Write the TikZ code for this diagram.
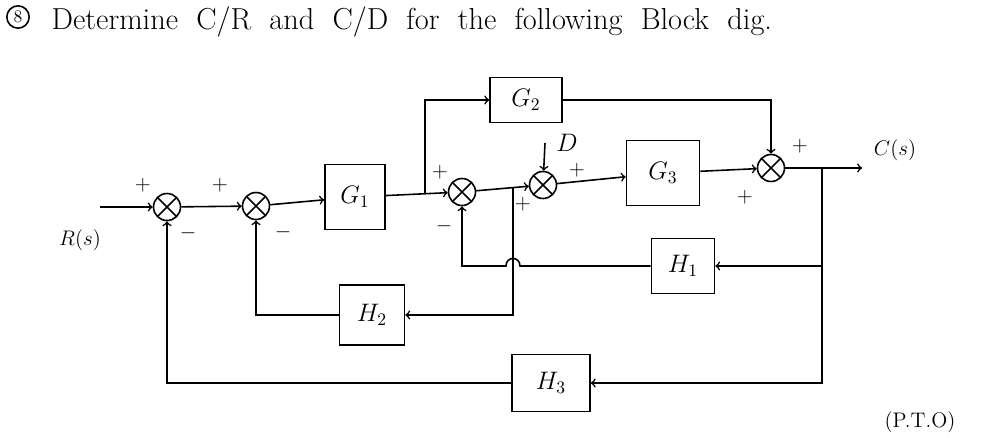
\documentclass[tikz,border=0pt]{standalone}
\usetikzlibrary{positioning}

\def \sumSize {0.54cm}

\begin{document}
\begin{tikzpicture}[x=0.02cm, y=-0.02cm, line width=0.9pt,
    block/.style={draw, font=\Large},
    sum/.style={draw, circle, minimum size=\sumSize, inner sep=0pt,
      path picture={\draw (path picture bounding box.south west) -- (path picture bounding box.north east)
        (path picture bounding box.north west) -- (path picture bounding box.south east);}},
    sign/.style={font=\large}]
      \useasboundingbox (0,0) rectangle (983,437);
      % heading
      \node[draw, circle, inner sep=1.5pt, font=\normalsize] (qno) at (18,17) {8};
      \node[right, font=\LARGE] (title) at (45,22) {\spaceskip=0.6em Determine C/R and C/D for the following Block dig.};
      % summing points
      \node[sum] (s1) at (167,207) {};
      \node[sum] (s2) at (256,206) {};
      \node[sum] (s3) at (462,192) {};
      \node[sum] (s4) at (543,185) {};
      \node[sum] (s5) at (771,168) {};
      % blocks
      \node[block, minimum width=1.2cm, minimum height=1.3cm] (g1) at (355,197) {$G_1$};
      \node[block, minimum width=1.44cm, minimum height=0.9cm] (g2) at (526,100) {$G_2$};
      \node[block, minimum width=1.46cm, minimum height=1.3cm] (g3) at (663,173) {$G_3$};
      \node[block, minimum width=1.26cm, minimum height=1.1cm] (h1) at (683,266) {$H_1$};
      \node[block, minimum width=1.3cm, minimum height=1.2cm] (h2) at (372,315) {$H_2$};
      \node[block, minimum width=1.56cm, minimum height=1.14cm] (h3) at (551,383) {$H_3$};
      % inputs, outputs and branch points
      \coordinate (rin) at (100,207);
      \coordinate (din) at (545,143);
      \coordinate (cout) at (862,168);
      \coordinate (b1) at (425,194);
      \coordinate (b2) at (513,188);
      \coordinate (b3) at (822,168);
      % forward path
      \draw[->] (rin) -- (s1);
      \draw[->] (s1) -- (s2);
      \draw[->] (s2) -- (g1);
      \draw[->] (g1) -- (s3);
      \draw[->] (s3) -- (s4);
      \draw[->] (din) -- (s4);
      \draw[->] (s4) -- (g3);
      \draw[->] (g3) -- (s5);
      \draw[->] (s5) -- (cout);
      \draw[->] (b1) |- (g2);
      \draw[->] (g2) -| (s5);
      % feedback paths
      \draw[->] (b3) |- (h1);
      \draw[->] (b3) |- (h3);
      \draw[->] (b2) |- (h2);
      \draw[->] (h1.west) -- (520,266) .. controls (520,256) and (506,256) .. (506,266) -| (s3.south);
      \draw[->] (h2) -| (s2);
      \draw[->] (h3) -| (s1);
      % signs and labels
      \node[sign] at (143,185) {$+$};
      \node[sign] at (188,233) {$-$};
      \node[sign] at (220,185) {$+$};
      \node[sign] at (283,232) {$-$};
      \node[sign] at (440,172) {$+$};
      \node[sign] at (444,226) {$-$};
      \node[sign] at (523,204) {$+$};
      \node[sign] at (577,170) {$+$};
      \node[sign] at (800,146) {$+$};
      \node[sign] at (745,197) {$+$};
      \node[font=\Large] (dlabel) at (567,143) {$D$};
      \node[font=\large] (rlabel) at (80,240) {$R(s)$};
      \node[font=\large] (clabel) at (895,150) {$C(s)$};
      \node[font=\large] (pto) at (920,422) {(P.T.O)};
\end{tikzpicture}
\end{document}
